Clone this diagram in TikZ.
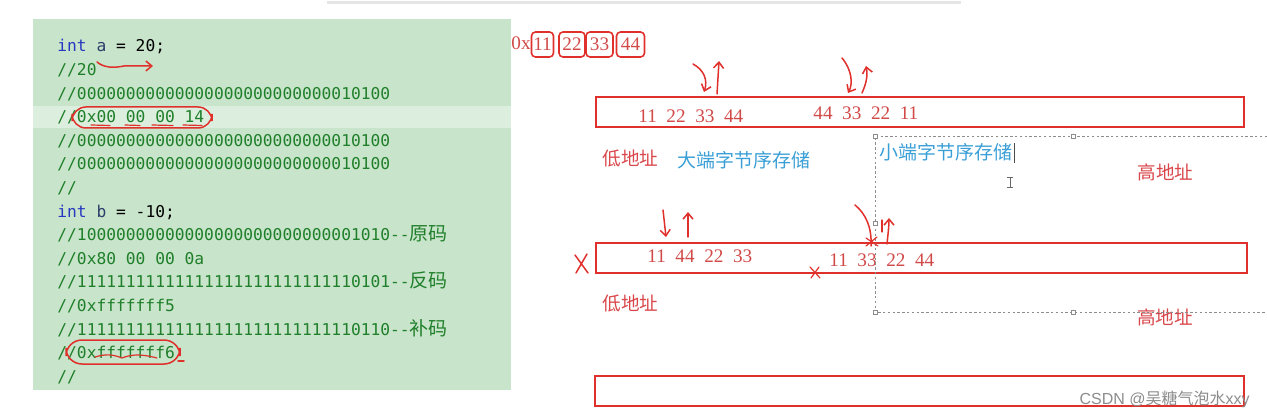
\documentclass[tikz,border=0pt]{standalone}
\usepackage{fontspec}
\setmainfont{Liberation Serif}
\setsansfont{Liberation Sans}
\setmonofont{DejaVu Sans Mono}
\newfontfamily\cjk{Noto Sans CJK SC}
\usetikzlibrary{positioning,arrows.meta,calc}
\definecolor{pnl}{HTML}{C8E4CA}
\definecolor{hil}{HTML}{DCEEDD}
\definecolor{kw}{HTML}{2638C0}
\definecolor{var}{HTML}{2A3F6A}
\definecolor{cmt}{HTML}{1F7F2A}
\definecolor{ink}{HTML}{E0302B}
\definecolor{dig}{HTML}{D04A48}
\definecolor{lo}{HTML}{D9474B}
\definecolor{blu}{HTML}{3A9FD6}
\definecolor{wm}{gray}{0.55}
\newcommand\zh[1]{{\fontsize{9.5}{10}\selectfont\cjk #1}}
\tikzset{
  code/.style={anchor=base west, inner sep=0pt, text=cmt, font=\fontsize{8.13}{10}\selectfont\ttfamily},
  mem/.style={draw=ink, line width=1pt, inner sep=0pt},
  byt/.style={draw=ink, line width=0.8pt, rounded corners=2pt, minimum height=12.5pt, inner sep=0pt, text=dig, font=\fontsize{9.6}{11}\selectfont},
  num/.style={anchor=base west, inner sep=0pt, text=dig, font=\fontsize{9.6}{11}\selectfont},
  addr/.style={inner sep=0pt, text=lo, font=\fontsize{9.3}{11}\selectfont\cjk},
  ord/.style={inner sep=0pt, text=blu, font=\fontsize{9.5}{11}\selectfont\cjk},
  hand/.style={draw=ink, line width=0.75pt, line cap=round},
  barb/.style={-{Straight Barb[length=3pt,width=5pt]}},
  hdl/.style={draw=black!45, fill=white, line width=0.3pt, minimum size=2pt, inner sep=0pt}}
\begin{document}
\begin{tikzpicture}[x=0.5pt, y=-0.5pt]
\useasboundingbox (0,0) rectangle (1267,416);
% window edge at the top
\draw[black!10, line width=1.5pt] (327,3) -- (961,3);
% code panel
\fill[pnl] (33,19) rectangle (511,390);
\fill[hil] (33,106) rectangle (511,128);
\node[code] (c1) at (57,52) {{\color{kw}int} {\color{var}a} {\color{black}= 20;}};
\foreach \t/\y [count=\i from 2] in {{//20}/75.6, {//00000000000000000000000000010100}/99.2, {//0x00 00 00 14}/122.8, {//00000000000000000000000000010100}/146.4, {//00000000000000000000000000010100}/170, {//}/193.6} {
  \node[code] (c\i) at (57,\y) {\t};}
\node[code] (c8) at (57,217.2) {{\color{kw}int} {\color{var}b} {\color{black}= -10;}};
\foreach \t/\y [count=\i from 9] in {{//10000000000000000000000000001010--\zh{原码}}/240.8, {//0x80 00 00 0a}/264.4, {//11111111111111111111111111110101--\zh{反码}}/288, {//0xfffffff5}/311.6, {//11111111111111111111111111110110--\zh{补码}}/335.2, {//0xfffffff6}/358.8, {//}/382.4} {
  \node[code] (c\i) at (57,\y) {\t};}
% marks on the code
\draw[hand, barb] (97,62) .. controls (104,68) and (114,68) .. (124,66) -- (153,66);
\draw[hand, rounded corners=7pt] (72,107) rectangle (212,128);
\foreach \a/\b in {91/110, 125/140, 152/173, 183/202}
  \draw[hand, line width=0.6pt] (\a,125) -- (\b,125.5);
\draw[hand, rounded corners=8pt] (66,340) rectangle (180,364);
\draw[hand] (178,361) -- (184,361);
\draw[hand, line width=0.6pt] (95,357) .. controls (105,354) and (112,354) .. (122,358) .. controls (132,354) and (142,354) .. (157,358);

% bytes of 0x11223344
\node[byt, minimum width=11pt] (b1) at (542.5,44.5) {11};
\node[byt, minimum width=13pt] (b2) at (572,44.5) {22};
\node[byt, minimum width=13.5pt] (b3) at (599.5,44.5) {33};
\node[byt, minimum width=14pt] (b4) at (630.5,44.5) {44};
\node[num, anchor=base east] (ox) at (531,50) {0x};

% memory rows
\node[mem, minimum width=324pt, minimum height=15pt] (m1) at (920,112) {};
\node[mem, minimum width=325.5pt, minimum height=15pt] (m2) at (921.5,258) {};
\node[mem, minimum width=324.5pt, minimum height=15pt] (m3) at (919.5,391) {};
\node[num] (n1) at (638,123) {11\enspace 22\enspace 33\enspace 44};
\node[num] (n2) at (813,120) {44\enspace 33\enspace 22\enspace 11};
\node[num] (n3) at (647,263) {11\enspace 44\enspace 22\enspace 33};
\node[num] (n4) at (829,267) {11\enspace 33\enspace 22\enspace 44};

% labels
\node[addr] (lo1) at (630.5,158) {低地址};
\node[ord] (big) at (743.5,160) {大端字节序存储};
\node[ord] (lit) at (946,152) {小端字节序存储};
\node[addr] (hi1) at (1165.5,172) {高地址};
\node[addr] (lo2) at (630.5,303) {低地址};
\node[addr] (hi2) at (1165,317) {高地址};

% text box being edited
\draw[black!45, line width=0.4pt, dash pattern=on 1.2pt off 1.2pt] (1267,136) -- (875,136) -- (875,312) -- (1267,312);
\foreach \p [count=\i] in {(875,136), (1073,136), (875,223), (875,312), (1073,312)}
  \node[hdl] (h\i) at \p {};
\draw[black!70, line width=0.5pt] (1014,143) -- (1014,163);
\draw[black!60, line width=0.5pt] (1010,178) -- (1010,188) (1007,178) -- (1013,178) (1007,188) -- (1013,188);

% hand-drawn arrows, first row
\draw[hand, barb] (693,64) .. controls (704,70) and (708,80) .. (704,92);
\draw[hand, barb] (717,94) -- (719,61);
\draw[hand, barb] (842,58) .. controls (852,70) and (853,84) .. (848,93);
\draw[hand, barb] (862,93) .. controls (866,84) and (868,76) .. (866,66);
% second row
\draw[hand, barb] (663,210) -- (666,237);
\draw[hand, barb] (688,237) -- (688,212);
\draw[hand] (855,205) .. controls (866,214) and (872,228) .. (871,246);
\draw[hand, line width=0.6pt] (882,220) -- (882,232);
\draw[hand, barb] (887,244) .. controls (888,234) and (889,226) .. (889,218);
\draw[hand] (575,255) -- (588,273) (587,254) -- (576,273);
\draw[hand, line width=0.6pt] (810,267) -- (820,278) (819,267) -- (811,278);
\draw[hand, line width=0.6pt] (866,238) -- (878,246) (866,246) -- (877,237);

% watermark
\node[anchor=base east, inner sep=0pt, text=wm, font=\fontsize{8}{10}\selectfont\sffamily] (wm) at (1250,404) {CSDN @{\cjk 吴糖气泡水}xxy};
\end{tikzpicture}
\end{document}
